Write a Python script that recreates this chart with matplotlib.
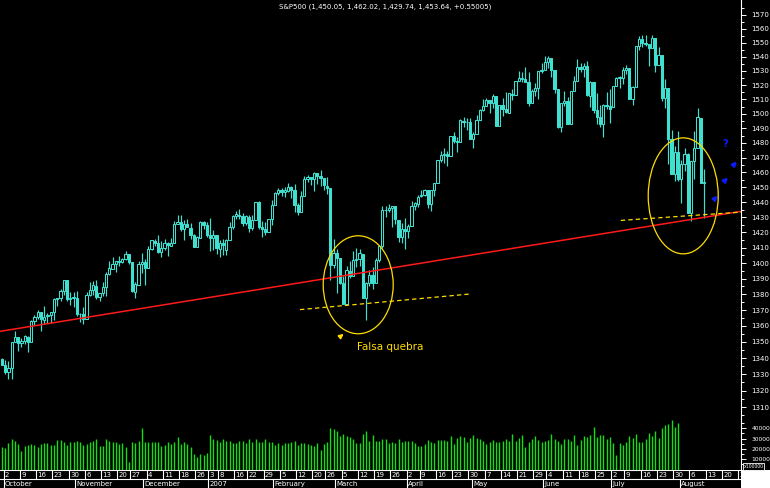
import numpy as np
import pandas as pd
import matplotlib
matplotlib.use('Agg')
import matplotlib.pyplot as plt
from matplotlib.patches import Ellipse, Rectangle
from matplotlib.transforms import ScaledTranslation
from matplotlib.ticker import FixedLocator, NullFormatter, FuncFormatter

# trading calendar (NYSE holidays in the period)
holidays = ['2006-11-23', '2006-12-25', '2007-01-01', '2007-01-02', '2007-01-15',
            '2007-02-19', '2007-04-06', '2007-05-28', '2007-07-04']
month_names = {1: '2007', 2: 'February', 3: 'March', 4: 'April', 5: 'May', 6: 'June',
               7: 'July', 8: 'August', 10: 'October', 11: 'November', 12: 'December'}

# daily S&P500, 2006-09-29 .. 2007-08-10
opens = [1339.15,
    1335.82, 1331.32, 1333.81, 1349.84, 1353.22, 1349.58, 1350.62, 1353.28, 1349.94, 1362.82, 1365.61,
    1369.05, 1363.93, 1365.95, 1366.94, 1368.58, 1377.02, 1377.36, 1382.21, 1388.89, 1377.30, 1377.93,
    1377.76, 1367.44, 1367.31, 1364.27, 1379.75, 1382.50, 1385.43, 1378.33, 1380.58, 1384.36, 1392.91,
    1396.53, 1399.76, 1401.17, 1400.43, 1402.69, 1405.94, 1400.95, 1381.61, 1386.11, 1399.47,
    1400.63, 1396.67, 1409.10, 1414.40, 1412.86, 1407.27, 1409.81, 1413.00, 1411.32, 1413.16, 1425.48,
    1427.08, 1422.42, 1425.51, 1423.20, 1418.10, 1410.75, 1416.63, 1426.77, 1424.71,
    1418.03, 1416.60, 1418.34, 1409.26, 1412.84, 1408.70, 1414.84, 1423.82, 1430.73, 1431.77, 1430.59,
    1426.35, 1430.47, 1422.95, 1427.96, 1440.12, 1423.90, 1422.03, 1420.61, 1428.65,
    1437.90, 1445.94, 1448.33, 1446.98, 1447.41, 1449.99, 1448.25, 1438.00, 1433.22, 1443.91, 1455.15,
    1456.77, 1455.53, 1459.60, 1457.29, 1456.22, 1451.04, 1449.25, 1398.64,
    1406.80, 1403.16, 1387.11, 1374.06, 1395.02, 1391.88, 1401.89, 1402.80, 1406.23, 1377.86, 1387.11,
    1392.28, 1386.95, 1402.04, 1410.92, 1435.04, 1434.54, 1436.11, 1437.49, 1428.35, 1417.17, 1422.52,
    1420.83, 1424.27, 1437.75, 1438.94, 1443.77, 1444.58, 1448.23, 1438.87, 1447.80, 1452.84, 1468.47,
    1471.47, 1472.48, 1470.69, 1484.33, 1480.93, 1480.28, 1495.27, 1494.21, 1494.07,
    1482.37, 1486.13, 1495.56, 1502.35, 1505.57, 1509.36, 1507.32, 1512.33, 1491.47, 1505.76, 1503.11,
    1500.75, 1514.01, 1512.74, 1522.75, 1525.10, 1524.09, 1522.10, 1507.50, 1515.55, 1517.60, 1530.19,
    1530.62, 1536.28, 1539.12, 1530.57, 1517.36, 1490.71, 1507.64, 1509.12, 1492.65, 1515.58, 1522.97,
    1532.90, 1531.02, 1533.68, 1512.50, 1522.19, 1502.56, 1497.68, 1492.62, 1506.32, 1505.70,
    1504.66, 1519.12, 1524.86, 1524.96, 1530.43, 1531.85, 1509.93, 1518.74, 1547.68, 1552.50, 1549.52,
    1549.20, 1546.13, 1553.19, 1534.06, 1541.57, 1511.03, 1518.09, 1482.44, 1458.93, 1473.90,
    1455.18, 1465.46, 1472.18, 1433.04, 1467.62, 1476.22, 1497.21, 1453.09]
highs = [1339.88,
    1338.54, 1338.31, 1350.20, 1356.87, 1353.22, 1352.69, 1354.23, 1353.97, 1363.76, 1366.63, 1370.20,
    1369.05, 1372.87, 1368.09, 1368.66, 1377.40, 1377.78, 1383.61, 1389.45, 1388.89, 1381.22, 1381.21,
    1381.95, 1368.39, 1371.68, 1381.40, 1388.19, 1388.61, 1388.92, 1381.04, 1387.61, 1394.49, 1401.35,
    1403.76, 1401.21, 1404.37, 1403.49, 1407.89, 1405.94, 1400.95, 1387.91, 1401.14, 1406.30,
    1402.46, 1411.23, 1415.27, 1415.93, 1418.27, 1414.09, 1415.60, 1413.78, 1416.64, 1427.23, 1431.63,
    1431.81, 1428.30, 1429.05, 1426.40, 1418.82, 1417.91, 1427.72, 1427.26, 1427.00,
    1429.42, 1421.84, 1418.34, 1414.98, 1415.61, 1415.99, 1427.12, 1431.23, 1433.93, 1435.27, 1432.96,
    1431.57, 1431.39, 1431.33, 1440.14, 1440.69, 1427.27, 1426.94, 1428.82, 1441.61,
    1446.64, 1449.33, 1449.38, 1450.19, 1452.99, 1450.45, 1452.45, 1439.11, 1447.23, 1457.65, 1457.97,
    1456.77, 1460.53, 1459.60, 1461.57, 1456.22, 1456.95, 1449.25, 1415.89,
    1409.46, 1403.40, 1391.86, 1397.90, 1401.16, 1407.93, 1410.15, 1409.34, 1406.23, 1388.09, 1395.73,
    1397.51, 1403.20, 1411.53, 1437.77, 1437.66, 1438.89, 1437.65, 1437.49, 1428.35, 1426.24, 1429.22,
    1425.49, 1440.57, 1440.16, 1444.88, 1448.10, 1448.73, 1448.39, 1448.02, 1453.11, 1468.62, 1474.35,
    1476.57, 1474.23, 1484.74, 1487.32, 1483.82, 1496.59, 1498.02, 1497.32, 1497.16,
    1487.27, 1499.10, 1503.34, 1510.34, 1511.00, 1509.36, 1513.80, 1512.33, 1506.24, 1510.90, 1514.83,
    1514.15, 1517.14, 1522.75, 1529.87, 1529.24, 1532.43, 1529.31, 1517.41, 1521.80, 1530.23, 1535.56,
    1540.56, 1540.53, 1539.12, 1530.57, 1517.36, 1507.76, 1515.53, 1511.33, 1515.70, 1526.45, 1538.71,
    1535.44, 1535.85, 1537.32, 1522.90, 1522.19, 1514.29, 1506.12, 1506.80, 1514.84, 1517.53,
    1519.45, 1526.01, 1526.57, 1532.40, 1534.26, 1531.85, 1519.34, 1547.92, 1555.10, 1555.90, 1555.32,
    1549.20, 1555.20, 1553.19, 1547.23, 1541.57, 1524.31, 1518.09, 1488.53, 1477.88, 1488.30,
    1468.38, 1476.43, 1473.23, 1467.67, 1488.30, 1503.89, 1497.21, 1462.02]
lows = [1335.64,
    1330.28, 1327.10, 1327.10, 1349.84, 1344.21, 1346.55, 1348.60, 1343.57, 1349.94, 1360.50, 1364.48,
    1356.87, 1360.95, 1362.06, 1362.10, 1363.94, 1372.42, 1376.00, 1379.47, 1375.85, 1373.46, 1372.19,
    1366.26, 1362.21, 1360.98, 1364.27, 1379.19, 1379.33, 1377.31, 1375.60, 1378.80, 1379.07, 1392.13,
    1396.53, 1394.55, 1397.85, 1399.99, 1402.26, 1399.25, 1381.44, 1377.83, 1386.11, 1393.83,
    1385.93, 1396.67, 1408.78, 1411.05, 1406.80, 1403.67, 1408.56, 1404.75, 1411.05, 1413.16, 1425.48,
    1420.65, 1414.88, 1423.51, 1415.90, 1410.28, 1410.45, 1416.63, 1422.05, 1416.84,
    1407.86, 1408.43, 1405.75, 1403.97, 1405.42, 1405.32, 1414.84, 1422.58, 1428.62, 1428.57, 1424.21,
    1425.19, 1420.40, 1421.66, 1427.96, 1422.34, 1416.96, 1418.46, 1420.61, 1424.78,
    1437.90, 1444.49, 1443.85, 1443.40, 1446.44, 1442.81, 1433.44, 1431.44, 1433.22, 1443.91, 1453.19,
    1451.57, 1447.12, 1452.02, 1450.51, 1448.36, 1445.48, 1389.42, 1396.65,
    1380.87, 1386.87, 1373.97, 1374.06, 1390.64, 1391.88, 1397.30, 1398.40, 1377.71, 1363.98, 1385.16,
    1383.63, 1386.95, 1400.70, 1409.75, 1429.88, 1433.21, 1423.28, 1425.54, 1414.07, 1413.27, 1408.90,
    1416.37, 1424.27, 1435.08, 1436.67, 1443.28, 1443.99, 1436.15, 1433.91, 1444.15, 1452.84, 1467.15,
    1466.41, 1464.47, 1470.69, 1480.19, 1473.74, 1480.28, 1491.17, 1488.67, 1482.29,
    1476.70, 1486.13, 1495.56, 1501.80, 1505.54, 1500.66, 1503.77, 1491.42, 1491.47, 1498.34, 1500.43,
    1500.75, 1509.29, 1512.74, 1522.71, 1522.05, 1522.12, 1505.18, 1507.50, 1512.02, 1510.06, 1528.26,
    1530.62, 1532.31, 1525.62, 1514.13, 1490.37, 1487.41, 1505.18, 1492.97, 1492.65, 1515.58, 1522.97,
    1529.31, 1525.67, 1512.36, 1504.75, 1500.74, 1492.68, 1490.54, 1484.18, 1503.41, 1493.61,
    1504.66, 1519.12, 1517.72, 1520.47, 1527.45, 1510.01, 1506.10, 1518.74, 1544.85, 1546.69, 1547.74,
    1533.67, 1546.13, 1529.20, 1534.06, 1508.62, 1503.73, 1465.30, 1458.95, 1454.32, 1454.25,
    1439.59, 1460.58, 1432.80, 1427.39, 1455.80, 1476.22, 1453.09, 1429.74]
closes = [1335.85,
    1331.32, 1334.11, 1350.20, 1353.22, 1349.59, 1350.66, 1353.42, 1349.95, 1362.83, 1365.62, 1369.06,
    1364.05, 1365.80, 1366.96, 1368.60, 1377.02, 1377.38, 1382.22, 1389.08, 1377.34, 1377.93, 1377.94,
    1367.81, 1367.34, 1364.30, 1379.78, 1382.84, 1385.72, 1378.33, 1380.90, 1384.42, 1393.22, 1396.57,
    1399.76, 1401.20, 1400.50, 1402.81, 1406.09, 1400.95, 1381.96, 1386.72, 1399.48, 1400.63,
    1396.71, 1409.12, 1414.76, 1412.90, 1407.29, 1409.84, 1413.04, 1411.56, 1413.21, 1425.49, 1427.09,
    1422.48, 1425.55, 1423.53, 1418.30, 1410.76, 1416.90, 1426.84, 1424.73, 1418.30,
    1416.60, 1418.34, 1409.71, 1412.84, 1412.11, 1414.85, 1423.82, 1430.73, 1431.90, 1430.62, 1426.37,
    1430.50, 1422.95, 1427.99, 1440.13, 1423.90, 1422.18, 1420.62, 1428.82, 1438.24,
    1445.94, 1448.39, 1446.99, 1448.00, 1450.02, 1448.31, 1438.06, 1433.37, 1444.26, 1455.30, 1456.81,
    1455.54, 1459.68, 1457.63, 1456.38, 1451.19, 1449.37, 1399.04, 1406.82,
    1403.17, 1387.17, 1374.12, 1395.41, 1391.97, 1401.89, 1402.84, 1406.60, 1377.95, 1387.17, 1392.28,
    1386.95, 1402.06, 1410.94, 1435.04, 1434.54, 1436.11, 1437.50, 1428.61, 1417.23, 1422.53, 1420.86,
    1424.55, 1437.77, 1439.37, 1443.76, 1444.61, 1448.39, 1438.87, 1447.80, 1452.85, 1468.33, 1471.48,
    1472.50, 1470.73, 1484.35, 1480.93, 1480.41, 1495.42, 1494.25, 1494.07, 1482.37,
    1486.30, 1495.92, 1502.39, 1505.62, 1509.48, 1507.72, 1512.58, 1491.47, 1505.85, 1503.15, 1501.19,
    1514.14, 1512.75, 1522.75, 1525.10, 1524.12, 1522.28, 1507.51, 1515.73, 1518.11, 1530.23, 1530.62,
    1536.34, 1539.18, 1530.95, 1517.38, 1490.72, 1507.67, 1509.12, 1493.00, 1515.67, 1522.97, 1532.91,
    1531.05, 1533.70, 1512.84, 1522.19, 1502.56, 1497.74, 1492.89, 1506.34, 1505.71, 1503.35,
    1519.43, 1524.87, 1525.40, 1530.44, 1531.85, 1510.12, 1518.76, 1547.70, 1552.50, 1549.52, 1549.37,
    1546.17, 1553.08, 1534.10, 1541.57, 1511.04, 1518.09, 1482.66, 1458.95, 1473.91, 1455.27,
    1465.81, 1472.20, 1433.06, 1467.67, 1476.71, 1497.49, 1453.09, 1453.64]
# volume (x100000), 2006-09-29 .. 2007-07-31
volumes = [22100, 20600, 26000, 29600, 28000, 24800, 18300, 23100, 23800, 24800,
    24100, 22100, 24800, 25400, 25400, 24100, 23800, 28600, 28600, 26400,
    23800, 26400, 26700, 27700, 26400, 23800, 24800, 26400, 27700, 29600,
    23100, 23100, 29600, 27700, 27000, 26400, 24400, 25400, 22100, 7600,
    26400, 26000, 27700, 40600, 26400, 26400, 26400, 26400, 26400, 23100,
    23800, 26400, 24400, 26400, 31900, 24800, 27000, 24800, 22100, 15000,
    11800, 15000, 14100, 15700, 33500, 29300, 28600, 27000, 29600, 27700,
    27700, 25400, 25400, 27700, 27700, 25400, 29300, 27000, 29600, 26400,
    26400, 29600, 26400, 26400, 23800, 25400, 23800, 25400, 25400, 26400,
    28000, 23800, 25400, 25400, 24800, 23800, 22800, 25400, 18900, 24800,
    27000, 40000, 39000, 37700, 32500, 34500, 32500, 31200, 29300, 25400,
    25400, 34500, 37400, 27700, 33500, 27700, 27700, 29300, 29300, 25400,
    26400, 25400, 29300, 27000, 27700, 27700, 27700, 25400, 22800, 22800,
    24400, 28600, 26400, 25400, 28600, 28600, 28600, 27700, 32500, 24800,
    30300, 32500, 31200, 26400, 30300, 33500, 30300, 29600, 27700, 24800,
    26400, 28600, 26400, 26400, 28000, 29300, 28000, 34500, 27700, 30900,
    33500, 22100, 27000, 29600, 32500, 28600, 26400, 28000, 28600, 34500,
    29600, 28000, 24800, 29300, 29300, 28000, 33500, 23800, 28600, 32500,
    31200, 33500, 41600, 31200, 33500, 33500, 29300, 31200, 26100, 14100,
    25400, 23800, 27000, 32500, 30900, 34500, 26400, 26400, 29600, 35100,
    32500, 37400, 30300, 40000, 43200, 44200, 48100, 41600, 45500]

title = 'S&P500 (1,450.05, 1,462.02, 1,429.74, 1,453.64, +0.55005)'

# drawn-on annotations: (trading-day index, price)
trend_red = ([-0.6, 227.4], [1356.6, 1433.9])
support_mar = ([91.7, 144.5], [1370.3, 1380.3])
support_aug = ([190.4, 227.4], [1427.9, 1433.4])

days = pd.bdate_range('2006-09-29', '2007-08-31')
days = days[~days.isin(pd.to_datetime(holidays))]
n = len(closes)
x = np.arange(n)

TURQ = '#40e0d0'
YEL = '#ffdc00'
BLUE = '#0a1cff'

fig = plt.figure(figsize=(7.7, 4.88), dpi=100, facecolor='black')
right = 741 / 770
ax = fig.add_axes([0, 72 / 488, right, 416 / 488])
axv = fig.add_axes([0, 18.5 / 488, right, 53.5 / 488])
axd = fig.add_axes([0, 0, right, 18.5 / 488])
xlim = (-0.615, 227.38)
for a in (ax, axv, axd):
    a.set_facecolor('black')
    a.set_xlim(*xlim)
    for s in a.spines.values():
        s.set_visible(False)
    a.tick_params(axis='x', bottom=False, labelbottom=False)

# price panel
ax.set_yscale('log')
ax.set_ylim(1304.6, 1580.9)
ax.yaxis.set_major_locator(FixedLocator(np.arange(1310, 1571, 10)))
ax.yaxis.set_minor_locator(FixedLocator(np.arange(1305, 1580, 10)))
ax.yaxis.set_major_formatter(FuncFormatter(lambda v, p: '%d' % round(v)))
ax.yaxis.set_minor_formatter(NullFormatter())
ax.yaxis.tick_right()
ax.tick_params(axis='y', which='major', colors='white', labelsize=5, length=3.5, width=0.7, pad=4)
ax.tick_params(axis='y', which='minor', colors='white', length=1.8, width=0.7)
ax.spines['right'].set_visible(True)
ax.spines['right'].set_color('white')
ax.spines['right'].set_linewidth(0.8)

o = np.array(opens); h = np.array(highs); l = np.array(lows); c = np.array(closes)
up = c >= o
ax.vlines(x, l, h, color=TURQ, lw=0.85, zorder=2)
body_lo = np.minimum(o, c)
body_h = np.maximum(np.abs(c - o), 0.05)
ax.bar(x[up], body_h[up], bottom=body_lo[up], width=0.75, facecolor='black',
       edgecolor=TURQ, linewidth=0.75, zorder=3)
ax.bar(x[~up], body_h[~up], bottom=body_lo[~up], width=0.75, facecolor=TURQ,
       edgecolor=TURQ, linewidth=0.75, zorder=3)

ax.plot(*trend_red, color='#ff1a1a', lw=1.1, zorder=4)
ax.plot(*support_mar, color=YEL, lw=0.9, dashes=(3.5, 2.5), zorder=4)
ax.plot(*support_aug, color=YEL, lw=0.9, dashes=(3.5, 2.5), zorder=4)

# circles around the two tests of the trend line (size in pixels)
for (cx, cy, w, hh) in [(109.6, 1386.1, 70, 98), (209.6, 1444.2, 70, 116)]:
    e = Ellipse((0, 0), w / 100, hh / 100, fill=False, ec=YEL, lw=0.9, zorder=5,
                transform=fig.dpi_scale_trans + ScaledTranslation(cx, cy, ax.transData))
    ax.add_patch(e)

ax.text(119.4, 1347.0, 'Falsa quebra', color=YEL, fontsize=7.5, ha='center', va='center')
ax.annotate('', xy=(105.8, 1356.2), xytext=(103.4, 1352.2),
            arrowprops=dict(arrowstyle='-|>', color=YEL, lw=1.3, mutation_scale=6))
for (t, hd) in [((224.4, 1463.4), (226.8, 1468.6)), ((221.6, 1452.6), (224.0, 1457.8)),
                ((218.6, 1440.6), (220.8, 1445.8))]:
    ax.annotate('', xy=hd, xytext=t,
                arrowprops=dict(arrowstyle='-|>', color=BLUE, lw=1.6, mutation_scale=6))
ax.text(222.6, 1479.5, '?', color=BLUE, fontsize=7, fontweight='bold', ha='center', va='center')

# volume panel
axv.set_ylim(0, 51940)
axv.vlines(x[:len(volumes)], 0, volumes, color='#10e010', lw=1.0)
axv.yaxis.set_major_locator(FixedLocator([10000, 20000, 30000, 40000]))
axv.yaxis.set_minor_locator(FixedLocator([5000, 15000, 25000, 35000, 45000]))
axv.yaxis.set_minor_formatter(NullFormatter())
axv.yaxis.tick_right()
axv.tick_params(axis='y', which='major', colors='white', labelsize=4.3, length=3.5, width=0.7, pad=4)
axv.tick_params(axis='y', which='minor', colors='white', length=1.8, width=0.7)
axv.spines['right'].set_visible(True)
axv.spines['right'].set_color('white')
axv.spines['right'].set_linewidth(0.8)

# date band
axd.set_ylim(0, 1)
axd.set_yticks([])
axd.axhline(0.97, color='white', lw=0.8)
axd.axhline(0.47, color='white', lw=0.8)
for i in range(1, len(days)):
    d, p = days[i], days[i - 1]
    if d.weekday() <= p.weekday():
        axd.vlines(i - 0.5, 0.47, 0.97, color='white', lw=0.8)
        axd.text(i - 0.1, 0.71, str(d.day), color='white', fontsize=5, ha='left',
                 va='center', clip_on=True)
    if d.month != p.month:
        axd.vlines(i - 0.5, 0, 0.47, color='white', lw=0.8)
        axd.text(i - 0.1, 0.22, month_names[d.month], color='white', fontsize=5,
                 ha='left', va='center', clip_on=True)

fig.patches.append(Rectangle((right, 0), 1 - right, 18.5 / 488, transform=fig.transFigure,
                             facecolor='white', edgecolor='none'))
fig.text(753.5 / 770, 1 - 466.5 / 488, 'x100000', color='white', fontsize=3.3, ha='center',
         va='center', bbox=dict(facecolor='black', edgecolor='white', lw=0.6, pad=0.6))
fig.text(0.5, 1 - 7 / 488, title, color='white', fontsize=5, ha='center', va='center')

fig.savefig('out.png', dpi=100, facecolor='black')
